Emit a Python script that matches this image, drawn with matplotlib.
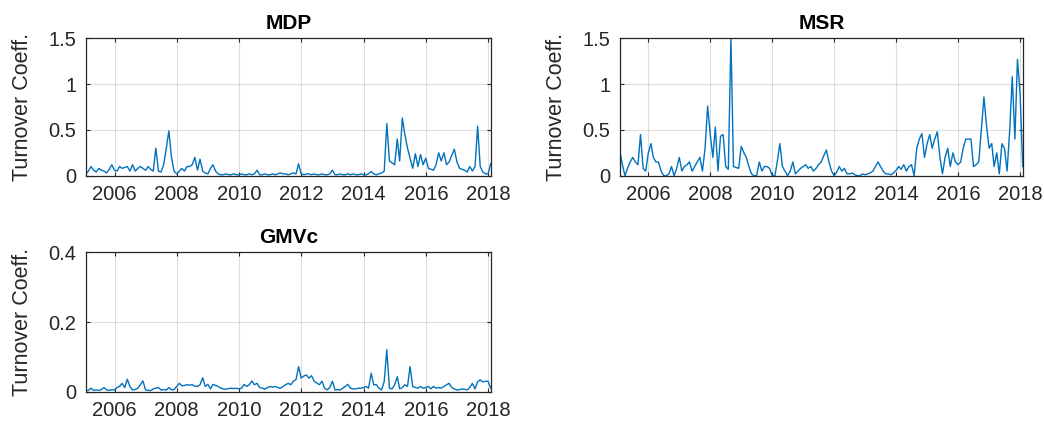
import numpy as np
import pandas as pd
import matplotlib
matplotlib.use("Agg")
import matplotlib.pyplot as plt
import matplotlib.dates as mdates
from matplotlib.ticker import FuncFormatter

plt.rcParams['font.family'] = ['Liberation Sans', 'DejaVu Sans']

# monthly dates (month ends), Jan 2005 .. Jan 2018
dates = pd.date_range('2005-01-31', '2018-01-31', freq='ME')

mdp = [
    0.02, 0.05, 0.10, 0.06, 0.04, 0.08, 0.06, 0.05, 0.03, 0.07, 0.12, 0.06,
    0.05, 0.10, 0.08, 0.09, 0.10, 0.05, 0.12, 0.05, 0.08, 0.10, 0.08, 0.06,
    0.10, 0.07, 0.05, 0.30, 0.05, 0.04, 0.12, 0.30, 0.49, 0.20, 0.05, 0.02,
    0.05, 0.08, 0.05, 0.10, 0.10, 0.12, 0.20, 0.06, 0.18, 0.05, 0.03, 0.02,
    0.08, 0.12, 0.05, 0.02, 0.01, 0.01, 0.02, 0.01, 0.01, 0.02, 0.01, 0.01,
    0.02, 0.01, 0.01, 0.02, 0.01, 0.02, 0.06, 0.01, 0.01, 0.02, 0.01, 0.01,
    0.02, 0.01, 0.02, 0.03, 0.02, 0.02, 0.01, 0.02, 0.03, 0.02, 0.13, 0.02,
    0.01, 0.02, 0.02, 0.01, 0.02, 0.01, 0.01, 0.02, 0.01, 0.01, 0.02, 0.06,
    0.01, 0.01, 0.02, 0.01, 0.01, 0.02, 0.01, 0.02, 0.01, 0.01, 0.02, 0.01,
    0.01, 0.02, 0.045, 0.02, 0.01, 0.02, 0.03, 0.05, 0.57, 0.16, 0.14, 0.12,
    0.40, 0.16, 0.63, 0.45, 0.30, 0.19, 0.08, 0.24, 0.10, 0.23, 0.12, 0.19,
    0.08, 0.07, 0.06, 0.12, 0.25, 0.16, 0.25, 0.12, 0.15, 0.22, 0.29, 0.15,
    0.08, 0.07, 0.06, 0.04, 0.10, 0.05, 0.10, 0.54, 0.10, 0.04, 0.02, 0.02,
    0.13,
]

msr = [
    0.26, 0.12, 0.00, 0.08, 0.15, 0.20, 0.15, 0.12, 0.45, 0.08, 0.05, 0.25,
    0.35, 0.20, 0.15, 0.15, 0.05, 0.00, 0.00, 0.02, 0.10, 0.00, 0.08, 0.20,
    0.05, 0.10, 0.12, 0.15, 0.05, 0.10, 0.15, 0.20, 0.05, 0.30, 0.76, 0.45,
    0.20, 0.53, 0.05, 0.43, 0.45, 0.10, 0.07, 1.50, 0.10, 0.09, 0.08, 0.32,
    0.25, 0.20, 0.10, 0.02, 0.00, 0.00, 0.15, 0.05, 0.10, 0.10, 0.08, 0.00,
    0.00, 0.15, 0.35, 0.10, 0.05, 0.00, 0.05, 0.15, 0.02, 0.05, 0.08, 0.10,
    0.12, 0.08, 0.10, 0.05, 0.08, 0.12, 0.15, 0.22, 0.28, 0.15, 0.05, 0.00,
    0.04, 0.10, 0.05, 0.08, 0.02, 0.02, 0.03, 0.01, 0.00, 0.00, 0.02, 0.01,
    0.02, 0.03, 0.05, 0.10, 0.15, 0.10, 0.05, 0.02, 0.02, 0.01, 0.03, 0.06,
    0.10, 0.07, 0.12, 0.05, 0.10, 0.12, 0.00, 0.30, 0.40, 0.46, 0.20, 0.35,
    0.45, 0.30, 0.40, 0.48, 0.20, 0.02, 0.20, 0.30, 0.10, 0.25, 0.15, 0.12,
    0.15, 0.30, 0.40, 0.40, 0.40, 0.10, 0.12, 0.15, 0.50, 0.86, 0.55, 0.30,
    0.35, 0.10, 0.25, 0.02, 0.35, 0.30, 0.05, 0.50, 1.08, 0.40, 1.27, 0.90,
    0.10,
]

gmvc = [
    0.003, 0.004, 0.010, 0.004, 0.005, 0.004, 0.006, 0.012, 0.005, 0.004, 0.006, 0.005,
    0.012, 0.015, 0.024, 0.012, 0.036, 0.015, 0.005, 0.006, 0.010, 0.020, 0.031, 0.005,
    0.004, 0.003, 0.008, 0.010, 0.012, 0.005, 0.006, 0.005, 0.012, 0.005, 0.006, 0.015,
    0.024, 0.017, 0.018, 0.020, 0.019, 0.020, 0.016, 0.015, 0.020, 0.040, 0.015, 0.021,
    0.008, 0.021, 0.018, 0.015, 0.010, 0.008, 0.007, 0.009, 0.010, 0.009, 0.010, 0.008,
    0.010, 0.021, 0.015, 0.020, 0.031, 0.020, 0.024, 0.012, 0.010, 0.007, 0.012, 0.015,
    0.013, 0.015, 0.012, 0.010, 0.015, 0.020, 0.024, 0.020, 0.030, 0.035, 0.072, 0.039,
    0.045, 0.048, 0.039, 0.046, 0.030, 0.025, 0.020, 0.030, 0.010, 0.005, 0.012, 0.030,
    0.005, 0.006, 0.005, 0.010, 0.015, 0.021, 0.010, 0.008, 0.008, 0.010, 0.010, 0.012,
    0.015, 0.010, 0.053, 0.020, 0.020, 0.010, 0.005, 0.030, 0.120, 0.010, 0.008, 0.020,
    0.043, 0.008, 0.012, 0.020, 0.015, 0.072, 0.015, 0.012, 0.010, 0.015, 0.010, 0.012,
    0.015, 0.008, 0.015, 0.010, 0.012, 0.010, 0.015, 0.020, 0.024, 0.012, 0.008, 0.005,
    0.006, 0.008, 0.007, 0.005, 0.012, 0.024, 0.008, 0.029, 0.034, 0.028, 0.030, 0.030,
    0.010,
]

titles = ['MDP', 'MSR', 'GMVc']
series = [mdp, msr, gmvc]
yticks = [[0, 0.5, 1, 1.5], [0, 0.5, 1, 1.5], [0, 0.2, 0.4]]
ylims = [(0, 1.5), (0, 1.5), (0, 0.4)]
ylabel = 'Turnover Coeff.'

W, H = 1044, 432
fig = plt.figure(figsize=(W / 100, H / 100), dpi=100)
fig.patch.set_facecolor('white')

# axes rectangles in pixels: left, top, right, bottom
rects = [(86, 38.3, 490.7, 175.7), (620, 38.3, 1022.7, 175.7), (86, 252.3, 490.7, 391.7)]

line_color = (0, 0.447, 0.741)
axc = (0.15, 0.15, 0.15)

for k in range(3):
    l, t, r, b = rects[k]
    ax = fig.add_axes([l / W, 1 - b / H, (r - l) / W, (b - t) / H])
    ax.plot(dates, series[k], color=line_color, lw=1.0)
    ax.set_xlim(dates[0], dates[-1])
    ax.set_ylim(*ylims[k])
    ax.set_yticks(yticks[k])
    ax.yaxis.set_major_formatter(FuncFormatter(lambda v, p: '%g' % v))
    ax.xaxis.set_major_locator(mdates.YearLocator(2))
    ax.xaxis.set_major_formatter(mdates.DateFormatter('%Y'))
    ax.grid(True, color=(0.15, 0.15, 0.15), alpha=0.15, lw=0.8)
    ax.set_axisbelow(True)
    for s in ax.spines.values():
        s.set_color(axc)
        s.set_linewidth(0.9)
    ax.tick_params(direction='in', length=3, width=0.8, color=axc,
                   top=True, right=True, labelsize=14.5, labelcolor=axc, pad=7)
    ax.set_title(titles[k], fontsize=15, fontweight='bold', color='black', pad=7)
    ax.set_ylabel(ylabel, fontsize=15.5, color=axc, labelpad=11)

fig.savefig('out.png', dpi=100, facecolor='white')
